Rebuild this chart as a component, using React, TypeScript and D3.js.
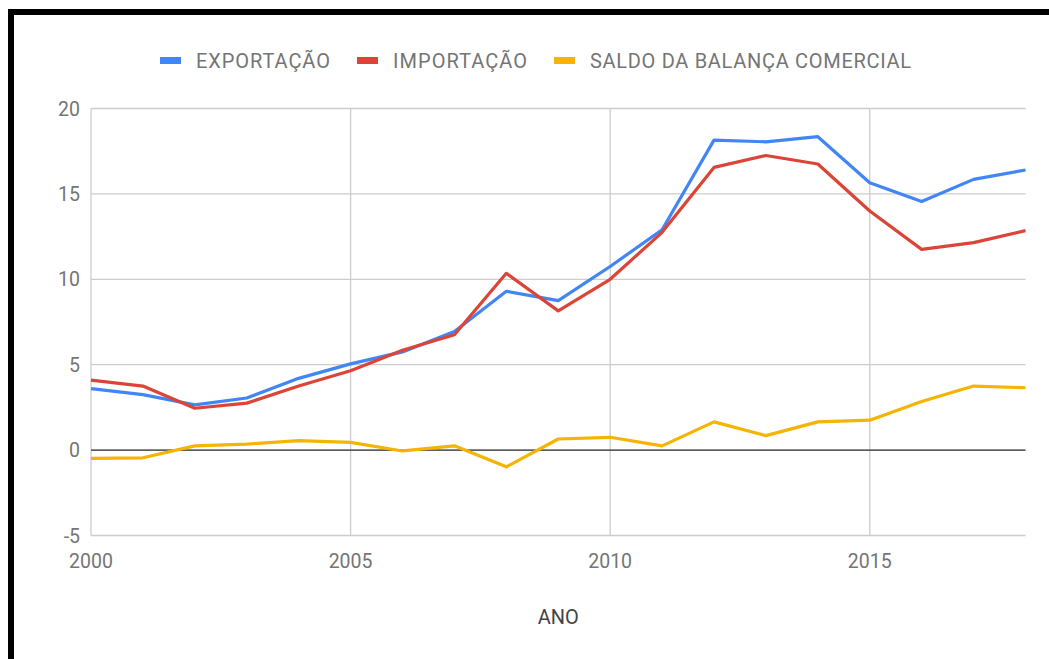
import React from "react";
import * as d3 from "d3";

const years = [2000, 2001, 2002, 2003, 2004, 2005, 2006, 2007, 2008, 2009, 2010, 2011, 2012, 2013, 2014, 2015, 2016, 2017, 2018];
const exportacao = [3.6, 3.25, 2.65, 3.05, 4.2, 5.05, 5.75, 6.95, 9.3, 8.75, 10.75, 12.9, 18.15, 18.05, 18.35, 15.65, 14.55, 15.85, 16.4];
const importacao = [4.1, 3.75, 2.45, 2.75, 3.75, 4.65, 5.85, 6.75, 10.35, 8.15, 10.0, 12.75, 16.55, 17.25, 16.75, 14.0, 11.75, 12.15, 12.85];
const saldo = [-0.48, -0.45, 0.25, 0.35, 0.55, 0.45, -0.05, 0.25, -0.98, 0.65, 0.75, 0.25, 1.65, 0.85, 1.65, 1.75, 2.85, 3.75, 3.65];
const yTicks = [-5, 0, 5, 10, 15, 20];
const xTicks = [2000, 2005, 2010, 2015];
const seriesNames = ["EXPORTAÇÃO", "IMPORTAÇÃO", "SALDO DA BALANÇA COMERCIAL"];
const seriesColors = ["#4285F4", "#DB4437", "#F4B400"];
const axisTitle = "ANO";

export default function App() {
  const W = 1049, H = 659;
  const left = 91, right = 1025.5, top = 108.5, bottom = 535.5;
  const x = d3.scaleLinear().domain([2000, 2018]).range([left, right]);
  const y = d3.scaleLinear().domain([-5, 20]).range([bottom, top]);
  const line = d3.line<number>().x((_, i) => x(years[i])).y((v) => y(v));
  const series = [exportacao, importacao, saldo];
  const legendX = [160, 357, 554];
  const legendLen = [134, 134, 321];
  const font = "Roboto, sans-serif";
  return (
    <svg width={W} height={H} style={{ position: "absolute", left: 0, top: 0, background: "#fff" }}>
      <rect x={0} y={0} width={W} height={H} fill="#fff" />
      {/* frame */}
      <rect x={8} y={9} width={W - 8} height={6} fill="#000" />
      <rect x={8} y={9} width={6} height={H - 9} fill="#000" />
      {/* legend */}
      {seriesNames.map((n, i) => (
        <g key={n}>
          <rect x={legendX[i]} y={57} width={21} height={7} fill={seriesColors[i]} />
          <text x={legendX[i] + 36} y={68} fontFamily={font} fontSize={20} fill="#757575" textLength={legendLen[i]} lengthAdjust="spacing">{n}</text>
        </g>
      ))}
      {/* horizontal grid */}
      {yTicks.map((t) => (
        <line key={t} x1={left} x2={right} y1={y(t)} y2={y(t)} stroke="#ccc" strokeWidth={1.3} />
      ))}
      {/* vertical grid */}
      {[2000, ...xTicks.slice(1)].map((t) => (
        <line key={t} x1={x(t)} x2={x(t)} y1={top} y2={bottom} stroke="#ccc" strokeWidth={1.3} />
      ))}
      <line x1={left} x2={right} y1={y(0)} y2={y(0)} stroke="#333" strokeWidth={1.3} />
      {/* lines */}
      {series.map((s, i) => (
        <path key={i} d={line(s) || ""} fill="none" stroke={seriesColors[i]} strokeWidth={3.2} strokeLinejoin="round" />
      ))}
      {/* y ticks */}
      {yTicks.map((t) => (
        <text key={t} x={80} y={y(t)} dy="0.36em" textAnchor="end" fontFamily={font} fontSize={19.5} fill="#757575">{t}</text>
      ))}
      {/* x ticks */}
      {xTicks.map((t) => (
        <text key={t} x={x(t)} y={568} textAnchor="middle" fontFamily={font} fontSize={19.5} fill="#757575">{t}</text>
      ))}
      <text x={(left + right) / 2} y={624} textAnchor="middle" fontFamily={font} fontSize={20} fill="#444">{axisTitle}</text>
    </svg>
  );
}
